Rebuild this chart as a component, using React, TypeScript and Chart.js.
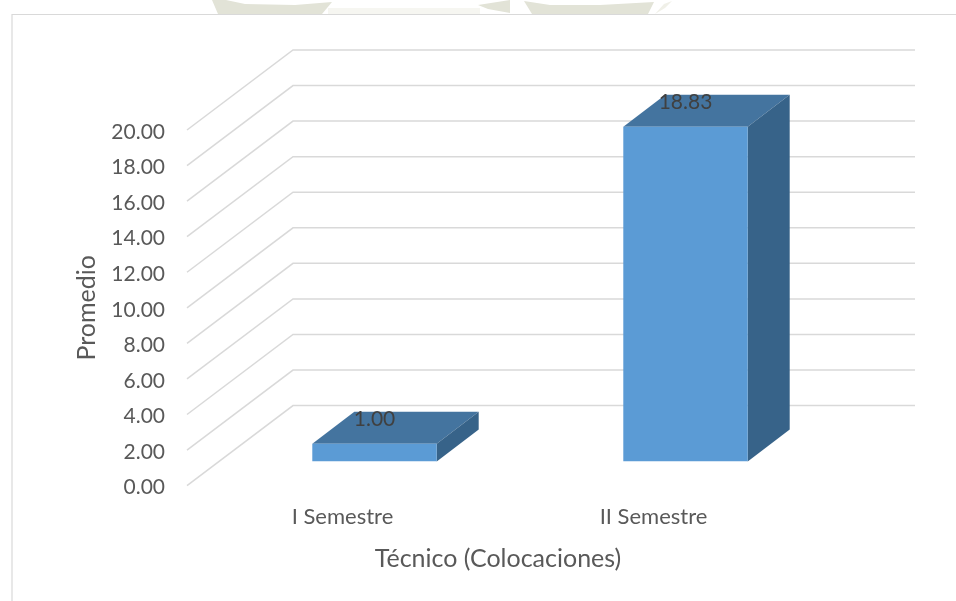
import React, { useEffect, useRef } from "react";
import { Chart, registerables } from "chart.js";

Chart.register(...registerables);

const categories = ["I Semestre", "II Semestre"];
const promedio = [1.0, 18.83];
const valueLabels = ["1.00", "18.83"];
const FONT = "Lato, Carlito, sans-serif";

const W = 956;
const H = 601;
// Projection of the 3D box, in px
const FLOOR_DX = 106;
const FLOOR_DY = -80;
const BAR_OFF_X = 32;
const BAR_OFF_Y = -24;
const BAR_DX = 42;
const BAR_DY = -32;

function poly(ctx: any, fill: string, pts: number[][]) {
  ctx.fillStyle = fill;
  ctx.beginPath();
  pts.forEach((p, i) => (i ? ctx.lineTo(p[0], p[1]) : ctx.moveTo(p[0], p[1])));
  ctx.closePath();
  ctx.fill();
}

const scene3d = {
  id: "scene3d",
  beforeDraw(chart: any) {
    const { ctx } = chart;
    ctx.save();
    ctx.fillStyle = "#ffffff";
    ctx.fillRect(0, 0, W, H);
    // watermark remnant above the frame
    poly(ctx, "#f6f6f1", [[328, 8], [480, 8], [480, 14], [328, 14]]);
    poly(ctx, "#e2e3d7", [[212, 0], [218, 14], [322, 14], [332, 2], [295, 5], [245, 4], [226, 0]]);
    poly(ctx, "#e2e3d7", [[478, 5], [510, 0], [510, 13], [488, 9]]);
    poly(ctx, "#e2e3d7", [[524, 1], [532, 14], [648, 14], [654, 2], [600, 5], [550, 5]]);
    poly(ctx, "#f0f0e8", [[655, 14], [664, 4], [672, 1], [665, 8]]);
    // frame
    ctx.strokeStyle = "#d9d9d9";
    ctx.lineWidth = 1.2;
    ctx.beginPath();
    ctx.moveTo(12, H);
    ctx.lineTo(12, 14.5);
    ctx.lineTo(W, 14.5);
    ctx.stroke();
    // gridlines on side wall and back wall
    const y = chart.scales.y;
    const x = chart.scales.x;
    ctx.strokeStyle = "#d9d9d9";
    ctx.lineWidth = 1.5;
    y.ticks.forEach((t: any) => {
      const py = y.getPixelForValue(t.value);
      ctx.beginPath();
      ctx.moveTo(x.left, py);
      ctx.lineTo(x.left + FLOOR_DX, py + FLOOR_DY);
      ctx.lineTo(x.right + FLOOR_DX, py + FLOOR_DY);
      ctx.stroke();
    });
    ctx.restore();
  },
  beforeDatasetDraw(chart: any) {
    const { ctx } = chart;
    ctx.save();
    ctx.translate(BAR_OFF_X, BAR_OFF_Y);
    chart.getDatasetMeta(0).data.forEach((bar: any) => {
      const l = bar.x - bar.width / 2;
      const r = bar.x + bar.width / 2;
      poly(ctx, "#44749f", [
        [l, bar.y],
        [l + BAR_DX, bar.y + BAR_DY],
        [r + BAR_DX, bar.y + BAR_DY],
        [r, bar.y],
      ]);
      poly(ctx, "#376389", [
        [r, bar.y],
        [r + BAR_DX, bar.y + BAR_DY],
        [r + BAR_DX, bar.base + BAR_DY],
        [r, bar.base],
      ]);
    });
  },
  afterDatasetDraw(chart: any) {
    const { ctx } = chart;
    ctx.restore();
    ctx.save();
    ctx.fillStyle = "#404040";
    ctx.font = `21px ${FONT}`;
    ctx.textAlign = "center";
    ctx.textBaseline = "middle";
    chart.getDatasetMeta(0).data.forEach((bar: any, i: number) => {
      ctx.fillText(valueLabels[i], bar.x + BAR_OFF_X, bar.y + BAR_OFF_Y - 25);
    });
    ctx.restore();
  },
};

export default function App() {
  const ref = useRef<HTMLCanvasElement>(null);
  useEffect(() => {
    document.body.style.margin = "0";
    const chart = new Chart(ref.current!, {
      type: "bar",
      data: {
        labels: categories,
        datasets: [
          {
            label: "Promedio",
            data: promedio,
            backgroundColor: "#5b9bd5",
            borderWidth: 0,
            barPercentage: 0.4,
            categoryPercentage: 1,
          },
        ],
      },
      options: {
        responsive: false,
        animation: false,
        events: [],
        layout: { padding: { left: 72, top: 130, right: 147, bottom: 23 } },
        plugins: { legend: { display: false }, tooltip: { enabled: false } },
        scales: {
          x: {
            grid: { display: false },
            border: { display: false },
            ticks: {
              color: "#595959",
              padding: 10,
              font: { family: FONT, size: 22 },
            },
            title: {
              display: true,
              text: "Técnico (Colocaciones)",
              color: "#595959",
              padding: { top: 4, bottom: 4 },
              font: { family: FONT, size: 25 },
            },
          },
          y: {
            min: 0,
            max: 20,
            grid: { display: false, drawTicks: false },
            border: { display: false },
            afterFit(axis: any) {
              axis.width = 115;
            },
            ticks: {
              stepSize: 2,
              color: "#595959",
              padding: 22,
              labelOffset: 2,
              font: { family: FONT, size: 21 },
              callback: (v: any) => Number(v).toFixed(2),
            },
            title: {
              display: true,
              text: "Promedio",
              color: "#595959",
              padding: { top: 0, bottom: 0 },
              font: { family: FONT, size: 25 },
            },
          },
        },
      },
      plugins: [scene3d],
    } as any);
    return () => chart.destroy();
  }, []);
  return <canvas ref={ref} width={W} height={H} style={{ display: "block" }} />;
}
